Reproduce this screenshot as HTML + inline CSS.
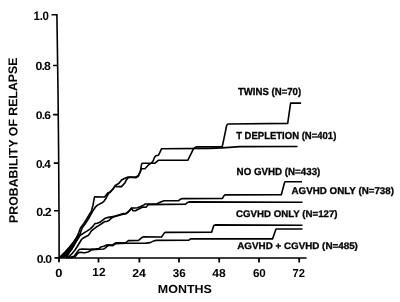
<!DOCTYPE html>
<html><head><meta charset="utf-8">
<style>
html,body{margin:0;padding:0;background:#fff;}
body{width:400px;height:302px;overflow:hidden;}
svg{display:block;}
.tx{will-change:transform;} .tx text{font-family:"Liberation Sans",sans-serif;font-weight:bold;fill:#000;text-rendering:geometricPrecision;}
</style></head><body>
<svg width="400" height="302" viewBox="0 0 400 302">
<rect x="0" y="0" width="400" height="302" fill="#fff"/>
<g stroke="#000" fill="none" stroke-linejoin="miter" stroke-linecap="butt">
<!-- axes -->
<path d="M51.5 14.7 H56.9 L58 90 L58.6 150 L59.1 230 L59.1 257.9 M58.3 258 H306.6" stroke-width="1.6"/>
<!-- y ticks -->
<path d="M53 65.5H58 M53.1 114.6H58.5 M53.8 163.1H58.7 M54 210.7H59 M54.5 257.9H59" stroke-width="1.6"/>
<!-- x ticks -->
<path d="M59 258V262.3 M98.5 258V262.5 M139.4 258V262.5 M179 258V262.5 M219.2 258V262.5 M259 258V262.5 M299.2 258V262.5" stroke-width="1.8"/>
</g>
<g class="tx" stroke="#000" stroke-width="0.0">
<text transform="translate(33.574 20.450) scale(0.9441 1)" font-size="12.210" letter-spacing="-0.358">1.0</text>
<text transform="translate(35.565 70.450) scale(1.0360 1)" font-size="11.846" letter-spacing="-0.868">0.8</text>
<text transform="translate(35.821 119.200) scale(1.0895 1)" font-size="11.119" letter-spacing="-0.814">0.6</text>
<text transform="translate(36.083 168.200) scale(1.0280 1)" font-size="11.483" letter-spacing="-0.841">0.4</text>
<text transform="translate(36.311 215.950) scale(1.0443 1)" font-size="11.846" letter-spacing="-0.868">0.2</text>
<text transform="translate(36.819 263.450) scale(1.0595 1)" font-size="11.483" letter-spacing="-0.841">0.0</text>
<text transform="translate(55.289 276.700) scale(1.0916 1)" font-size="11.846">0</text>
<text transform="translate(92.351 276.400) scale(1.0099 1)" font-size="11.773">12</text>
<text transform="translate(132.273 276.500) scale(1.0721 1)" font-size="11.483">24</text>
<text transform="translate(172.732 276.500) scale(1.0170 1)" font-size="11.483">36</text>
<text transform="translate(212.217 276.500) scale(1.0535 1)" font-size="11.483">48</text>
<text transform="translate(252.875 276.500) scale(1.0100 1)" font-size="11.483">60</text>
<text transform="translate(292.520 276.500) scale(0.9730 1)" font-size="11.483">72</text>
<text transform="translate(157.865 293.100) scale(1.0665 1)" font-size="11.701">MONTHS</text>
<text transform="translate(18.1 222.35) rotate(-90.28) translate(-0.525 -0.300) scale(0.9978 1)" font-size="12.355">PROBABILITY OF RELAPSE</text>
</g>
<g class="tx" stroke="#000" stroke-width="0.3">
<text transform="translate(237.892 94.500) scale(0.9455 1)" font-size="10.175">TWINS (N=70)</text>
<text transform="translate(236.143 138.500) scale(0.9365 1)" font-size="10.175">T DEPLETION (N=401)</text>
<text transform="translate(236.596 174.500) scale(0.9604 1)" font-size="10.175">NO GVHD (N=433)</text>
<text transform="translate(291.506 194.000) scale(0.9988 1)" font-size="9.811">AGVHD ONLY (N=738)</text>
<text transform="translate(236.102 217.350) scale(1.0107 1)" font-size="9.593">CGVHD ONLY (N=127)</text>
<text transform="translate(237.255 249.000) scale(1.0406 1)" font-size="9.448">AGVHD + CGVHD (N=485)</text>
</g>
<g stroke="#000" fill="none" stroke-width="1.6" stroke-linejoin="round">
<polygon points="60,257.6 60.3,256 64.2,252.8 69.3,246.6 73.3,242 76.3,237.3 77.4,234.5 80.3,234.5 79.4,236.6 78.2,238.5 76.6,241.8 74.9,245.4 72.6,249.4 70.3,252.5 68.8,255.2 67.5,257.6" fill="#000" stroke="none"/>
<!-- TWINS -->
<path d="M59.8,257.3 L65,252 L69.5,247 L73.5,242 L76.6,237.5 L78.6,233 L80.5,228 L83.8,223.5 L86.7,219 L89.2,214.6 L91.3,211.5 L93,205.2 L94.4,197.4 L94.8,196.8 L104.6,197 L106.5,194.6 L108,192.7 L110,192.4 L113.3,188.7 L115.3,185.4 L119,183.3 L121.5,180 L124.9,178.3 L128.2,177 L135.8,177 L138.3,175.7 L140.3,171.6 L141.6,164.1 L142.4,163.3 L155,163.2 L158.3,160.3 L187.9,160.2 L193.7,148.4 L196.2,146.8 L222.2,146.9 L226.8,125 L228,124 L287.7,123.4 L290.6,103.1 L301.1,103.1"/>
<!-- TDEPL -->
<path d="M61,257.5 L66.5,252.5 L71,247.5 L74.8,242.5 L77.6,238.3 L80,234 L82.1,228 L85.4,223.5 L88.3,219 L90.8,214.6 L92.5,211.5 L95.3,207.2 L97.9,204.9 L101.2,203.3 L103.9,201.3 L105.9,198.6 L107.2,196 L108.7,193.2 L112.4,189.5 L115.7,185.8 L116.6,186.6 L121.5,186.6 L124.9,182.9 L126.5,179.6 L128.6,177.5 L130,177.3 L135.8,177.7 L138.3,176.3 L140.3,171.6 L141.6,168.7 L144.9,168.7 L149,164.5 L151.5,162.9 L153.2,160.8 L154.4,157.5 L155.8,155.7 L158.3,155.3 L159.9,152.4 L161.6,148.7 L210,148.4 L222,147.9 L240,146.6 L297.5,146.5"/>
<!-- NOGVHD -->
<path d="M63,257.5 L67.5,253 L71.5,248.5 L75,243.5 L77.5,239.5 L80,235.5 L84,232.9 L87.3,230.9 L90.6,228.6 L93.3,225.9 L94.9,223.6 L97.2,223.3 L99.9,222.3 L102,220.6 L104.6,218.6 L107.3,217.6 L112.6,216.6 L115.2,215.9 L118.6,214.9 L122,213.9 L126.3,213.2 L128.5,211.5 L131.5,208.1 L137.5,207.8 L141.3,206.3 L143.5,205.1 L145.3,204 L156.5,204 L159.5,202.5 L164,200.7 L178.4,200.75 L181,198.9 L182.5,198.6 L222.4,198.4 L223.9,195.8 L225,194.9 L281.3,194.7 L284.7,182 L285.5,181.8 L302,181.8"/>
<!-- AGVHD -->
<path d="M68,257.6 L71.7,254 L75,250 L77,247 L78.5,244.5 L80,242 L81.5,239.5 L83,238.2 L86,236.5 L88,235.5 L90,233.2 L91.3,230.9 L93.3,229.3 L95.9,227.3 L98.6,225.6 L101.2,224 L104.6,221.6 L107.3,221.2 L109.3,220.2 L110.6,218.9 L112,217.9 L115.2,216.4 L118.6,215.4 L122,214.4 L126.3,213.6 L128.5,211.8 L131.5,208.4 L133,210.8 L135.3,210.8 L138.3,209.3 L141.3,207.8 L143,207 L146,207.2 L148.3,204.6 L185.5,204.1 L187.75,202.3 L189.25,201.9 L302.5,202.2"/>
<!-- CGVHD -->
<path d="M66,257.6 L71,257 L74,256.4 L76.3,253.3 L78.6,250.1 L80,249.2 L82.5,249 L90,249.2 L96,248.9 L99,248.6 L100.7,247 L103.7,246.3 L106.7,245.1 L108,244.9 L112.5,245 L115.7,242.9 L126,242.6 L128.4,240.6 L138.5,240.5 L139.7,239.4 L142.1,237.4 L143.3,236.9 L161.6,237 L164,233.4 L165.2,232.4 L211.6,232.3 L213.8,225.5 L215.2,224.9 L302.5,225.2"/>
<!-- AGCG -->
<path d="M70,257.8 L75,256.8 L77.2,254 L78.6,252.6 L81,252.3 L83.3,252.8 L85.6,252.6 L87.9,252 L89.8,251 L90.7,250.3 L93,249.8 L96,249.5 L99.5,249.3 L103.7,249 L105.5,247.8 L107.3,246.2 L109,245.2 L112.5,245.8 L115.7,243.7 L126,243.3 L146,243.1 L150.2,242.6 L153.8,240.9 L155.6,240.4 L188.6,240.3 L190.9,238.7 L272.5,238.9 L275.9,229.2 L276.6,229 L302.5,229"/>
</g>
</svg>
</body></html>
